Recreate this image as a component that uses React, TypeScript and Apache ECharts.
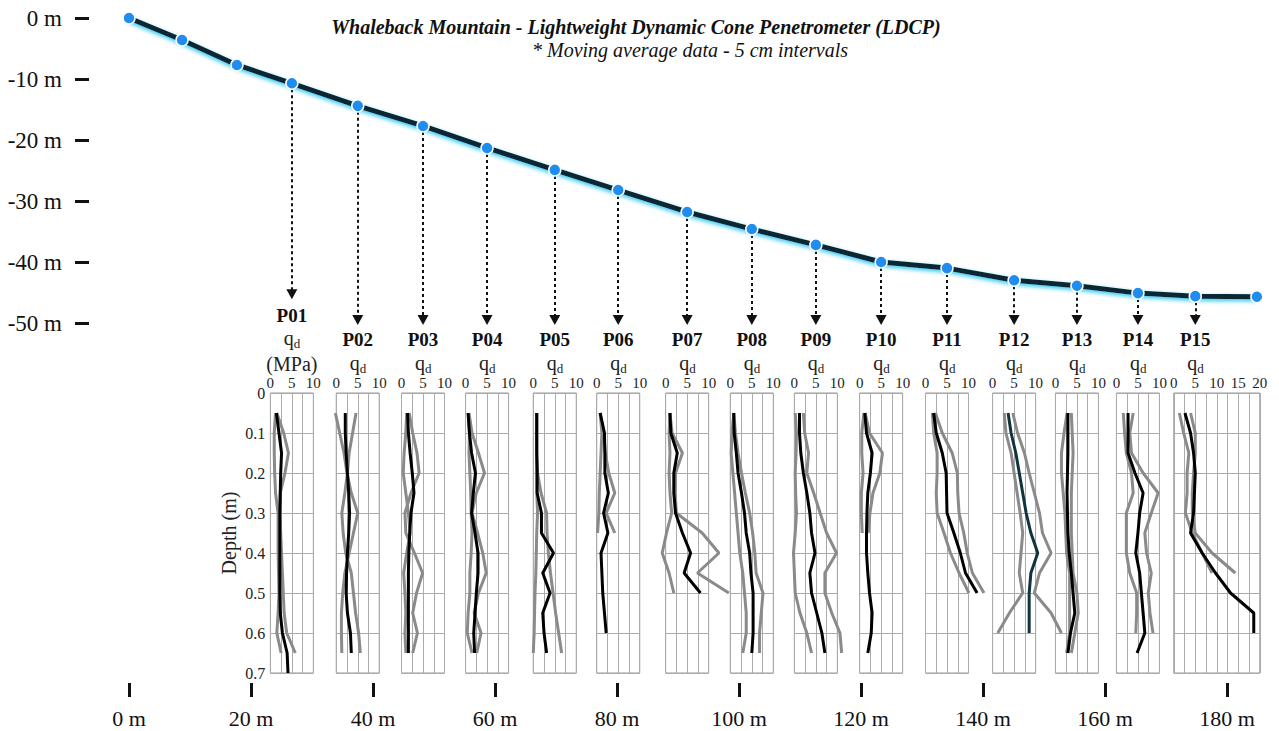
import { useEffect, useRef } from "react";
import * as echarts from "echarts";

const FONT = "Liberation Serif, Times New Roman, serif";

// Ground surface profile: horizontal distance (m) and elevation (m)
const DISTANCE = [0, 8.7, 17.7, 26.7, 37.5, 48.2, 58.7, 69.8, 80.2, 91.5, 102.1, 112.6, 123.3, 134.1, 145.1, 155.4, 165.4, 174.8, 184.9];
const ELEVATION = [0, -3.6, -7.7, -10.7, -14.4, -17.7, -21.3, -24.9, -28.2, -31.8, -34.6, -37.2, -40.0, -41.0, -43.0, -43.9, -45.1, -45.6, -45.7];

// Probe names and the profile point each one sits on
const PROBES = ["P01", "P02", "P03", "P04", "P05", "P06", "P07", "P08", "P09", "P10", "P11", "P12", "P13", "P14", "P15"];
const PROBE_POINT = [3, 4, 5, 6, 7, 8, 9, 10, 11, 12, 13, 14, 15, 16, 17];
// Elevation where each dashed leader arrow stops
const ARROW_END = [-45.3, -49.5, -49.5, -49.5, -49.5, -49.5, -49.5, -49.5, -49.5, -49.5, -49.5, -49.5, -49.5, -49.5, -49.5];

// Depth below surface (m) of each moving-average sample
const DEPTHS = [0.05, 0.1, 0.15, 0.2, 0.25, 0.3, 0.35, 0.4, 0.45, 0.5, 0.55, 0.6, 0.65, 0.7];

// Upper limit of each probe's q_d axis (MPa)
const QD_MAX = [10, 10, 10, 10, 10, 10, 10, 10, 10, 10, 10, 10, 10, 10, 20];

// Mean cone resistance q_d (MPa) per probe
const QD_MEAN = [
  [1.4, 2.0, 2.6, 2.4, 2.3, 2.2, 2.2, 2.2, 2.2, 2.2, 2.3, 2.8, 3.9, 4.1],
  [2.1, 2.1, 2.3, 2.6, 2.9, 3.1, 2.9, 2.6, 2.4, 2.3, 2.6, 3.3, 3.5],
  [1.4, 1.6, 2.0, 2.5, 2.9, 2.2, 1.9, 1.7, 1.6, 1.6, 1.6, 1.6, 1.6],
  [0.6, 0.9, 1.4, 2.3, 1.8, 1.4, 2.2, 2.9, 2.9, 2.5, 2.2, 1.9, 2.1],
  [0.8, 0.8, 0.8, 0.9, 0.9, 1.9, 1.9, 4.7, 2.2, 3.9, 2.2, 2.5, 3.1],
  [0.8, 1.8, 1.9, 1.9, 2.7, 1.6, 2.6, 1.0, 1.2, 1.4, 1.8, 2.2],
  [1.0, 1.2, 2.7, 1.9, 1.9, 2.3, 3.9, 5.8, 4.3, 8.1],
  [0.8, 0.9, 1.4, 1.8, 2.6, 3.3, 3.7, 4.5, 4.8, 5.3, 5.3, 5.3, 5.0],
  [1.2, 1.2, 1.5, 2.1, 2.9, 3.6, 4.0, 4.8, 3.6, 4.0, 5.2, 6.4, 7.1],
  [1.2, 1.6, 2.9, 2.5, 1.9, 1.7, 1.6, 1.6, 1.9, 2.3, 2.9, 2.7, 1.9],
  [1.9, 2.5, 3.9, 4.8, 4.9, 5.0, 6.6, 8.1, 9.3, 12.0],
  [3.6, 4.3, 5.4, 6.2, 7.0, 7.8, 8.9, 10.5, 8.9, 8.5, 8.5, 8.5],
  [2.9, 2.9, 2.9, 2.8, 2.7, 2.8, 2.9, 3.2, 3.7, 4.1, 4.5, 3.5, 2.9],
  [2.7, 2.7, 2.7, 4.3, 6.2, 5.4, 5.0, 4.5, 5.4, 5.8, 6.2, 6.6, 4.8],
  [2.6, 3.9, 4.6, 5.0, 4.8, 4.6, 3.9, 6.6, 9.7, 13.2, 18.6, 18.6],
];

// Lower envelope of q_d (MPa)
const QD_LOW = [
  [1.2, 0.9, 0.9, 1.0, 1.2, 1.8, 1.8, 1.8, 1.9, 2.0, 1.8, 1.5, 2.5],
  [-0.2, 0.8, 1.8, 2.5, 3.5, 5.0, 4.0, 3.0, 2.0, 1.5, 1.2, 1.2, 1.3],
  [1.2, 1.0, 0.6, 0.4, 1.0, 1.6, 2.0, 1.2, 0.5, 0.8, 1.0, 0.8, 1.0],
  [0.6, 0.9, 0.8, 1.0, 1.2, 1.3, 1.5, 1.3, 1.0, 1.0, 0.6, 0.4, 1.5],
  [0.8, 0.8, 0.8, 0.8, 0.8, 1.0, 0.8, 0.7, 0.6, 0.4, 0.3, 0.2, 0.0],
  [0.8, 1.2, 1.0, 0.8, 0.6, 0.5, 0.2],
  [1.0, 0.8, 1.0, 0.8, 1.0, 1.4, 0.2, -0.8, 0.8, 1.9],
  [0.8, 0.4, 0.2, 0.6, 1.0, 1.4, 1.8, 2.2, 2.9, 3.3, 3.7, 3.7, 2.9],
  [0.2, 0.5, 0.4, 0.2, 0.3, 0.5, 0.2, -0.2, 0.0, 0.2, 1.3, 2.9, 4.0],
  [1.0, 0.5, 0.5, 0.8, 0.4, 0.4, 0.6],
  [1.6, 1.9, 2.7, 2.7, 2.5, 2.7, 4.3, 5.8, 7.8, 10.1],
  [2.7, 3.1, 4.3, 5.0, 5.7, 6.4, 7.0, 6.6, 6.2, 7.0, 3.9, 1.2],
  [2.7, 2.0, 1.4, 1.4, 1.8, 2.2, 2.4, 2.6, 3.3, 3.3, 3.3, 3.3, 2.6],
  [1.6, 1.9, 2.3, 3.5, 3.9, 2.3, 2.3, 2.3, 3.1, 4.7, 4.7, 4.5],
  [1.3, 2.3, 3.5, 3.1, 3.1, 2.7, 4.3, 6.6, 8.9],
];

// Upper envelope of q_d (MPa)
const QD_HIGH = [
  [1.5, 3.1, 4.2, 3.4, 2.3, 2.2, 2.4, 2.6, 2.8, 3.0, 3.2, 3.8, 5.8],
  [4.6, 3.8, 3.0, 2.6, 2.0, 1.3, 1.6, 2.2, 3.5, 4.0, 4.5, 5.2, 5.6],
  [1.8, 2.6, 3.6, 4.1, 2.2, 0.8, 1.0, 3.0, 4.9, 3.5, 2.6, 3.7, 2.6],
  [0.8, 1.5, 3.0, 4.4, 2.5, 1.5, 2.8, 4.0, 4.8, 3.0, 2.0, 3.6, 2.6],
  [0.8, 0.8, 0.8, 1.0, 1.8, 3.1, 3.2, 3.5, 4.0, 4.6, 5.2, 5.9, 6.6],
  [0.8, 1.6, 2.0, 2.8, 4.2, 2.2, 4.2],
  [1.0, 1.5, 3.9, 2.3, 2.2, 2.5, 8.5, 12.4, 7.4, 14.7],
  [0.8, 1.2, 1.8, 2.6, 3.5, 4.5, 5.2, 5.7, 6.0, 7.6, 7.2, 6.8, 6.8],
  [2.1, 2.4, 3.3, 2.9, 4.5, 6.0, 7.5, 9.8, 7.1, 7.1, 8.7, 10.6, 11.0],
  [1.3, 2.3, 5.3, 4.7, 3.1, 2.4, 2.0],
  [2.3, 3.9, 6.2, 7.4, 7.5, 7.8, 8.9, 9.7, 10.9, 13.6],
  [4.7, 5.8, 7.4, 8.5, 9.7, 10.9, 11.6, 13.6, 10.9, 9.7, 13.6, 16.0],
  [3.7, 3.9, 4.1, 3.9, 3.7, 3.7, 3.7, 3.9, 4.1, 5.0, 5.3, 4.5, 3.7],
  [3.9, 3.1, 3.5, 6.2, 9.7, 8.1, 6.6, 7.0, 8.1, 7.4, 7.8, 8.5],
  [3.9, 5.0, 5.0, 4.6, 4.3, 4.3, 5.0, 8.9, 14.3],
];

// Layout of the drawing (pixels)
const PLOT_LEFT = 129;
const PLOT_TOP = 18;
const PX_PER_M = 6.1;
const PANEL_TOP = 393;
const PANEL_HEIGHT = 280;
const PX_PER_MPA = 4.3;
// Hidden plotting range used for the traces, so lines may run past a panel frame
const TRACE_MIN = -2;
const TRACE_MAX = 20;

const toPx = (d: number) => PLOT_LEFT + PX_PER_M * d;

const depthSeries = (vals: number[]) => vals.map((q, k) => [q, DEPTHS[k]]);

export default function App() {
  const ref = useRef<HTMLDivElement>(null);

  useEffect(() => {
    if (!ref.current) return;
    const chart = echarts.init(ref.current, undefined, { renderer: "svg" });

    const grids: any[] = [
      {
        left: PLOT_LEFT,
        top: PLOT_TOP,
        width: PX_PER_M * 190,
        height: PX_PER_M * 50,
        outerBoundsMode: "none",
        containLabel: false,
      },
    ];
    const xAxes: any[] = [
      {
        gridIndex: 0,
        type: "value",
        min: 0,
        max: 190,
        interval: 20,
        offset: 360,
        axisLine: { show: false, onZero: false },
        axisTick: { show: true, length: 14, lineStyle: { color: "#111", width: 3 } },
        axisLabel: {
          fontFamily: FONT,
          fontSize: 22,
          color: "#111",
          margin: 24,
          formatter: (v: number) => (v % 20 === 0 ? `${v} m` : ""),
        },
        splitLine: { show: false },
      },
    ];
    const yAxes: any[] = [
      {
        gridIndex: 0,
        type: "value",
        min: -50,
        max: 0,
        interval: 10,
        offset: 40,
        axisLine: { show: false, onZero: false },
        axisTick: { show: true, length: 14, lineStyle: { color: "#111", width: 3 } },
        axisLabel: { fontFamily: FONT, fontSize: 23, color: "#111", margin: 27, formatter: (v: number) => `${v} m` },
        splitLine: { show: false },
      },
    ];
    const series: any[] = [
      {
        type: "line",
        xAxisIndex: 0,
        yAxisIndex: 0,
        data: DISTANCE.map((d, i) => [d, ELEVATION[i]]),
        symbol: "circle",
        symbolSize: 12,
        showAllSymbol: true,
        clip: false,
        z: 4,
        itemStyle: { color: "#1f8cf0", borderColor: "#ffffff", borderWidth: 1.5 },
        lineStyle: { color: "#0b2631", width: 5, shadowColor: "#2cc4f2", shadowBlur: 4, shadowOffsetY: 2 },
        markLine: {
          silent: true,
          z: 2,
          symbol: ["none", "triangle"],
          symbolSize: [11, 10],
          label: { show: false },
          lineStyle: { color: "#111", type: [3, 3], width: 2 },
          itemStyle: { color: "#111" },
          data: PROBE_POINT.map((p, i) => [
            { coord: [DISTANCE[p], ELEVATION[p]] },
            { coord: [DISTANCE[p], ARROW_END[i]] },
          ]),
        },
      },
    ];

    const graphics: any[] = [
      {
        type: "text",
        x: 636,
        y: 27,
        style: {
          text: "Whaleback Mountain - Lightweight Dynamic Cone Penetrometer (LDCP)",
          font: `italic bold 20px ${FONT}`,
          fill: "#111",
          align: "center",
          verticalAlign: "middle",
        },
      },
      {
        type: "text",
        x: 690,
        y: 50,
        style: {
          text: "* Moving average data - 5 cm intervals",
          font: `italic 20px ${FONT}`,
          fill: "#111",
          align: "center",
          verticalAlign: "middle",
        },
      },
    ];

    PROBES.forEach((name, i) => {
      const frame = grids.length;
      const trace = frame + 1;
      const cx = toPx(DISTANCE[PROBE_POINT[i]]);
      const zeroX = cx - 5 * PX_PER_MPA;

      // Visible frame with q_d ticks and depth grid
      grids.push({
        left: zeroX,
        top: PANEL_TOP,
        width: QD_MAX[i] * PX_PER_MPA,
        height: PANEL_HEIGHT,
        show: true,
        borderColor: "#9a9a9a",
        borderWidth: 1,
        outerBoundsMode: "none",
        containLabel: false,
      });
      // Same scale, wider and invisible, carrying the traces
      grids.push({
        left: zeroX + TRACE_MIN * PX_PER_MPA,
        top: PANEL_TOP,
        width: (TRACE_MAX - TRACE_MIN) * PX_PER_MPA,
        height: PANEL_HEIGHT,
        show: false,
        outerBoundsMode: "none",
        containLabel: false,
      });

      xAxes.push(
        {
          gridIndex: frame,
          type: "value",
          position: "top",
          min: 0,
          max: QD_MAX[i],
          interval: 2.5,
          axisLine: { show: false, onZero: false },
          axisTick: { show: false },
          axisLabel: {
            fontFamily: FONT,
            fontSize: 15,
            color: "#222",
            margin: 3,
            formatter: (v: number) => (v % 5 === 0 ? String(v) : ""),
          },
          splitLine: { show: true, lineStyle: { color: "#ababab", width: 1 } },
        },
        { gridIndex: trace, type: "value", min: TRACE_MIN, max: TRACE_MAX, show: false }
      );
      yAxes.push(
        {
          gridIndex: frame,
          type: "value",
          inverse: true,
          min: 0,
          max: 0.7,
          interval: 0.1,
          axisLine: { show: false, onZero: false },
          axisTick: { show: false },
          axisLabel: {
            show: i === 0,
            fontFamily: FONT,
            fontSize: 16,
            color: "#222",
            margin: 5,
            formatter: (v: number) => (v === 0 ? "0" : v.toFixed(1)),
          },
          name: i === 0 ? "Depth (m)" : "",
          nameLocation: "middle",
          nameRotate: 90,
          nameGap: 31,
          nameTextStyle: { fontFamily: FONT, fontSize: 20, color: "#222" },
          splitLine: { show: true, lineStyle: { color: "#ababab", width: 1 } },
        },
        { gridIndex: trace, type: "value", inverse: true, min: 0, max: 0.7, show: false }
      );

      const gray = { color: "#8a8a8a", width: 3 };
      series.push(
        {
          type: "line",
          name: `${name} low`,
          xAxisIndex: trace,
          yAxisIndex: trace,
          data: depthSeries(QD_LOW[i]),
          showSymbol: false,
          z: 2,
          lineStyle: gray,
        },
        {
          type: "line",
          name: `${name} high`,
          xAxisIndex: trace,
          yAxisIndex: trace,
          data: depthSeries(QD_HIGH[i]),
          showSymbol: false,
          z: 2,
          lineStyle: gray,
        },
        {
          type: "line",
          name: `${name} mean`,
          xAxisIndex: trace,
          yAxisIndex: trace,
          data: depthSeries(QD_MEAN[i]),
          showSymbol: false,
          z: 3,
          lineStyle: { color: name === "P12" ? "#0f3440" : "#000", width: 3 },
        }
      );

      const first = i === 0;
      graphics.push(
        {
          type: "text",
          x: cx,
          y: first ? 315 : 339,
          style: { text: name, font: `bold 19px ${FONT}`, fill: "#111", align: "center", verticalAlign: "middle" },
        },
        {
          type: "text",
          x: cx - 3,
          y: first ? 338 : 363,
          style: { text: "q", font: `20px ${FONT}`, fill: "#222", align: "center", verticalAlign: "middle" },
        },
        {
          type: "text",
          x: cx + 2,
          y: first ? 343 : 368,
          style: { text: "d", font: `13px ${FONT}`, fill: "#222", align: "left", verticalAlign: "middle" },
        }
      );
      if (first) {
        graphics.push({
          type: "text",
          x: cx,
          y: 364,
          style: { text: "(MPa)", font: `20px ${FONT}`, fill: "#222", align: "center", verticalAlign: "middle" },
        });
      }
    });

    chart.setOption({
      animation: false,
      backgroundColor: "#ffffff",
      grid: grids,
      xAxis: xAxes,
      yAxis: yAxes,
      series,
      graphic: graphics,
    });

    return () => chart.dispose();
  }, []);

  return <div ref={ref} style={{ width: 1279, height: 731, position: "absolute", left: 0, top: 0 }} />;
}
